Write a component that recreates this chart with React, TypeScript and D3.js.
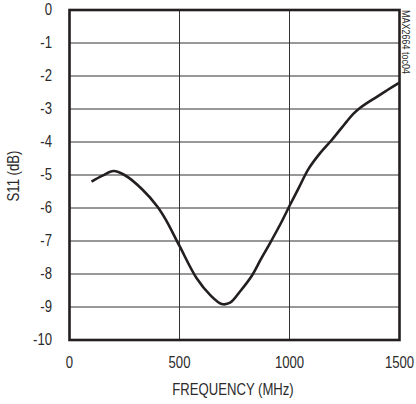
import { useRef, useEffect } from "react";
import * as d3 from "d3";

const freq = [100, 150, 200, 250, 330, 400, 440, 500, 578, 640, 692, 730, 775, 828, 870, 911, 960, 1002, 1045, 1086, 1140, 1192, 1260, 1290, 1320, 1350, 1390, 1442, 1500];
const s11 = [-5.2, -5.02, -4.88, -5.0, -5.43, -5.96, -6.38, -7.15, -8.13, -8.64, -8.91, -8.87, -8.53, -8.06, -7.55, -7.07, -6.47, -5.91, -5.35, -4.82, -4.33, -3.94, -3.38, -3.15, -2.97, -2.83, -2.66, -2.44, -2.2];
const xTicks = [0, 500, 1000, 1500];
const yTicks = [0, -1, -2, -3, -4, -5, -6, -7, -8, -9, -10];

const font = "'Liberation Sans', Arial, sans-serif";
const squeeze = 0.82; // reference uses a condensed face

export default function App() {
  const svgRef = useRef<SVGSVGElement>(null);

  useEffect(() => {
    if (!svgRef.current) return;
    const svg = d3.select(svgRef.current);
    svg.selectAll("*").remove();

    const left = 69.5, right = 399.5, top = 10, bottom = 340;
    const x = d3.scaleLinear().domain([0, 1500]).range([left, right]);
    const y = d3.scaleLinear().domain([0, -10]).range([top, bottom]);

    const label = (tx: number, ty: number, txt: string, anchor: string, size: number, rot = 0) =>
      svg.append("text")
        .attr("transform", `translate(${tx},${ty}) rotate(${rot}) scale(${squeeze},1)`)
        .attr("text-anchor", anchor)
        .attr("dominant-baseline", "central")
        .attr("font-family", font)
        .attr("font-size", size)
        .attr("fill", "#2b2b2b")
        .text(txt);

    // grid
    yTicks.slice(1, -1).forEach((t) => {
      svg.append("line")
        .attr("x1", left).attr("x2", right)
        .attr("y1", y(t)).attr("y2", y(t))
        .attr("stroke", "#333").attr("stroke-width", 1);
    });
    xTicks.slice(1, -1).forEach((t) => {
      svg.append("line")
        .attr("x1", x(t)).attr("x2", x(t))
        .attr("y1", top).attr("y2", bottom)
        .attr("stroke", "#333").attr("stroke-width", 1);
    });

    // curve
    const line = d3.line<number>()
      .x((_, i) => x(freq[i]))
      .y((d) => y(d))
      .curve(d3.curveCatmullRom.alpha(0.5));
    svg.append("path")
      .attr("d", line(s11))
      .attr("fill", "none")
      .attr("stroke", "#231f20")
      .attr("stroke-width", 2.6)
      .attr("stroke-linejoin", "round");

    // frame
    svg.append("rect")
      .attr("x", left).attr("y", top)
      .attr("width", right - left).attr("height", bottom - top)
      .attr("fill", "none").attr("stroke", "#231f20").attr("stroke-width", 2.6);

    yTicks.forEach((t) => label(52, y(t), String(t), "end", 16));
    xTicks.forEach((t) => label(x(t), 363, String(t), "middle", 16));

    label(233, 390, "FREQUENCY (MHz)", "middle", 16);
    label(14, 176, "S11 (dB)", "middle", 16, -90);
    label(406, 10, "MAX2664 toc04", "start", 11, 90);
  }, []);

  return (
    <svg
      ref={svgRef}
      width={416}
      height={404}
      style={{ position: "absolute", left: 0, top: 0, background: "#fff" }}
    />
  );
}
